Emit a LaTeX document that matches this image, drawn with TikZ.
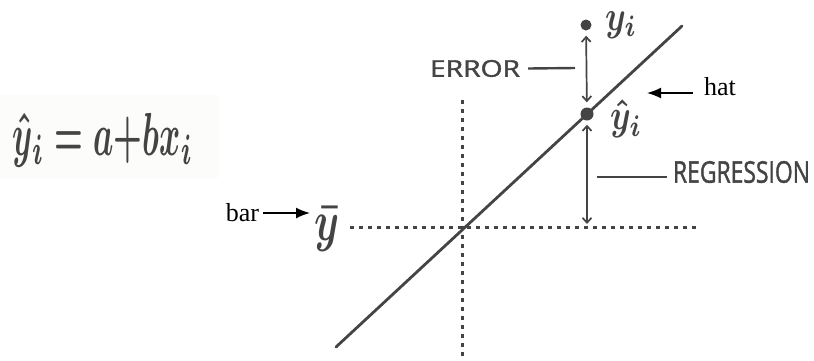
\documentclass[tikz,border=0pt]{standalone}
\usepackage{fontspec}
\usepackage{graphicx}
\setmainfont{Liberation Serif}
\newfontfamily\handfont{Open Sans}[BoldFont={Open Sans},BoldFeatures={FakeBold=1.6}]
\usetikzlibrary{arrows.meta}
\definecolor{inkc}{RGB}{68,68,68}
\definecolor{paper}{RGB}{252,252,250}
\begin{document}
\begin{tikzpicture}[x=1pt,y=-1pt,
  ink/.style={draw=inkc, line width=2.8pt, line cap=round},
  dotline/.style={draw=inkc, line width=3pt, dash pattern=on 3.5pt off 5.5pt},
  pt/.style={circle, fill=inkc, inner sep=0pt},
  lbl/.style={inner sep=0pt, text=inkc},
  dim/.style={draw=inkc, line width=1.7pt, {Straight Barb[length=5pt,width=9pt]}-{Straight Barb[length=5pt,width=9pt]}},
  tick/.style={draw=inkc, line width=2.4pt},
  ann/.style={draw=black, line width=1.6pt, -{Latex[length=14pt,width=11pt]}},
  serif/.style={inner sep=0pt, font=\fontsize{26}{30}\selectfont}]
\useasboundingbox (0,0) rectangle (814,360);
\fill[paper] (0,95) rectangle (218,178);
% equation
\node[lbl] (eq) at (103,140) {\resizebox*{180pt}{54pt}{\boldmath$\hat{y}_i = a{+}bx_i$}};
% axes
\coordinate (V1) at (462,100);
\coordinate (V2) at (462,360);
\coordinate (H1) at (350,227);
\coordinate (H2) at (697,227);
\draw[dotline] (V1) -- (V2);
\draw[dotline] (H1) -- (H2);
% regression line
\coordinate (L1) at (336,347);
\coordinate (L2) at (682,26);
\draw[ink] (L1) -- (L2);
% points
\node[pt, minimum size=11pt] (yi) at (586,25) {};
\node[pt, minimum size=13pt] (yh) at (587,114) {};
\coordinate (R) at (587,225);
\draw[dim, shorten <=5pt, shorten >=5pt] (yi) -- (yh);
\draw[dim, shorten <=4pt, shorten >=1pt] (yh) -- (R);
% point labels
\node[lbl] (yil) at (621,25) {\resizebox*{32pt}{27pt}{\boldmath$y_i$}};
\node[lbl] (yhl) at (626,119) {\resizebox*{32pt}{38pt}{\boldmath$\hat{y}_i$}};
\node[lbl] (ybl) at (327,229) {\resizebox*{25pt}{45pt}{\boldmath$\bar{y}$}};
% ERROR / REGRESSION
\node[lbl] (err) at (475,68.5) {\resizebox*{90pt}{17pt}{\handfont\bfseries ERROR}};
\coordinate (e2) at (575,68);
\draw[tick] ([xshift=8pt]err.east) -- (e2);
\node[lbl] (reg) at (741.5,172) {\resizebox*{137pt}{22pt}{\handfont\bfseries REGRESSION}};
\coordinate (g1) at (597,177);
\draw[tick, shorten >=6pt] (g1) -- (reg.west |- g1);
% hat / bar annotations
\node[serif] (hat) at (720,87) {hat};
\coordinate (ht) at (693,93);
\coordinate (hh) at (647,93);
\draw[ann] (ht) -- (hh);
\node[serif] (bar) at (242.5,213) {bar};
\coordinate (bt) at (263,213);
\coordinate (bh) at (310,213);
\draw[ann] (bt) -- (bh);
\end{tikzpicture}
\end{document}
